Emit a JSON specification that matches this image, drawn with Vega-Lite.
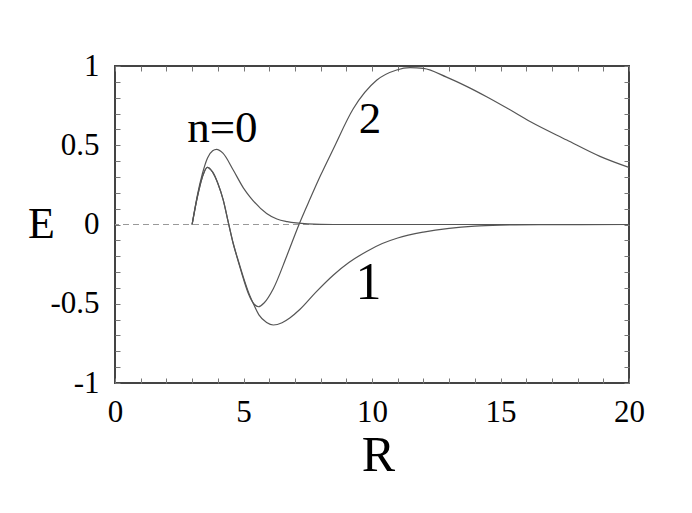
{
  "$schema": "https://vega.github.io/schema/vega-lite/v6.json",
  "width": 514,
  "height": 317,
  "autosize": {"type": "none"},
  "padding": {"left": 115, "top": 66, "right": 63, "bottom": 130},
  "background": "white",
  "config": {
    "view": {"stroke": "#444", "strokeWidth": 2},
    "axis": {"grid": false, "domain": false, "tickColor": "#777", "tickWidth": 1, "labelColor": "black", "titleColor": "black", "labelFont": "Liberation Serif", "titleFont": "Liberation Serif", "titleFontWeight": "normal"}
  },
  "datasets": {
    "curves": [
      {"n": "0", "R": 3.0, "E": 0.0},
      {"n": "0", "R": 3.2, "E": 0.18},
      {"n": "0", "R": 3.4, "E": 0.32},
      {"n": "0", "R": 3.6, "E": 0.42},
      {"n": "0", "R": 3.8, "E": 0.465},
      {"n": "0", "R": 3.95, "E": 0.474},
      {"n": "0", "R": 4.2, "E": 0.45},
      {"n": "0", "R": 4.6, "E": 0.344},
      {"n": "0", "R": 5.0, "E": 0.23},
      {"n": "0", "R": 5.25, "E": 0.175},
      {"n": "0", "R": 5.9, "E": 0.07},
      {"n": "0", "R": 6.3, "E": 0.035},
      {"n": "0", "R": 6.7, "E": 0.018},
      {"n": "0", "R": 7.5, "E": 0.004},
      {"n": "0", "R": 8.5, "E": 0.0},
      {"n": "0", "R": 20.0, "E": 0.0},
      {"n": "1", "R": 3.0, "E": 0.0},
      {"n": "1", "R": 3.2, "E": 0.17},
      {"n": "1", "R": 3.4, "E": 0.3},
      {"n": "1", "R": 3.59, "E": 0.361},
      {"n": "1", "R": 3.8, "E": 0.33},
      {"n": "1", "R": 4.0, "E": 0.26},
      {"n": "1", "R": 4.21, "E": 0.155},
      {"n": "1", "R": 4.4, "E": 0.02},
      {"n": "1", "R": 4.6, "E": -0.12},
      {"n": "1", "R": 4.8, "E": -0.23},
      {"n": "1", "R": 5.0, "E": -0.335},
      {"n": "1", "R": 5.2, "E": -0.43},
      {"n": "1", "R": 5.4, "E": -0.505},
      {"n": "1", "R": 5.6, "E": -0.57},
      {"n": "1", "R": 5.9, "E": -0.618},
      {"n": "1", "R": 6.16, "E": -0.634},
      {"n": "1", "R": 6.5, "E": -0.62},
      {"n": "1", "R": 6.8, "E": -0.59},
      {"n": "1", "R": 7.2, "E": -0.535},
      {"n": "1", "R": 7.8, "E": -0.43},
      {"n": "1", "R": 8.49, "E": -0.32},
      {"n": "1", "R": 9.1, "E": -0.24},
      {"n": "1", "R": 9.79, "E": -0.17},
      {"n": "1", "R": 10.4, "E": -0.12},
      {"n": "1", "R": 11.0, "E": -0.085},
      {"n": "1", "R": 12.0, "E": -0.048},
      {"n": "1", "R": 13.0, "E": -0.024},
      {"n": "1", "R": 14.0, "E": -0.01},
      {"n": "1", "R": 15.0, "E": -0.004},
      {"n": "1", "R": 16.5, "E": -0.001},
      {"n": "1", "R": 20.0, "E": 0.0},
      {"n": "2", "R": 3.0, "E": 0.0},
      {"n": "2", "R": 3.2, "E": 0.17},
      {"n": "2", "R": 3.4, "E": 0.3},
      {"n": "2", "R": 3.59, "E": 0.361},
      {"n": "2", "R": 3.8, "E": 0.33},
      {"n": "2", "R": 4.0, "E": 0.26},
      {"n": "2", "R": 4.21, "E": 0.155},
      {"n": "2", "R": 4.4, "E": 0.02},
      {"n": "2", "R": 4.6, "E": -0.12},
      {"n": "2", "R": 4.8, "E": -0.235},
      {"n": "2", "R": 5.0, "E": -0.345},
      {"n": "2", "R": 5.2, "E": -0.44},
      {"n": "2", "R": 5.4, "E": -0.5},
      {"n": "2", "R": 5.58, "E": -0.519},
      {"n": "2", "R": 5.8, "E": -0.495},
      {"n": "2", "R": 6.16, "E": -0.405},
      {"n": "2", "R": 6.68, "E": -0.2},
      {"n": "2", "R": 7.16, "E": 0.0},
      {"n": "2", "R": 7.6, "E": 0.165},
      {"n": "2", "R": 8.0, "E": 0.31},
      {"n": "2", "R": 8.49, "E": 0.475},
      {"n": "2", "R": 9.27, "E": 0.73},
      {"n": "2", "R": 10.18, "E": 0.91},
      {"n": "2", "R": 10.96, "E": 0.975},
      {"n": "2", "R": 11.48, "E": 0.99},
      {"n": "2", "R": 12.0, "E": 0.985},
      {"n": "2", "R": 12.9, "E": 0.93},
      {"n": "2", "R": 13.7, "E": 0.87},
      {"n": "2", "R": 14.46, "E": 0.806},
      {"n": "2", "R": 15.3, "E": 0.73},
      {"n": "2", "R": 16.15, "E": 0.65},
      {"n": "2", "R": 17.58, "E": 0.533},
      {"n": "2", "R": 18.87, "E": 0.43},
      {"n": "2", "R": 20.0, "E": 0.36}
    ],
    "labels": [
      {"label": "n=0", "R": 4.18, "E": 0.52},
      {"label": "1", "R": 9.86, "E": -0.472},
      {"label": "2", "R": 9.92, "E": 0.577}
    ],
    "zero": [{"E": 0}]
  },
  "resolve": {"axis": {"x": "independent", "y": "independent"}},
  "layer": [
    {
      "data": {"name": "zero"},
      "mark": {"type": "rule", "color": "#999", "strokeWidth": 1.2, "strokeDash": [6, 4]},
      "encoding": {
        "y": {"field": "E", "type": "quantitative", "scale": {"domain": [-1, 1], "nice": false}, "axis": null}
      }
    },
    {
      "data": {"name": "curves"},
      "mark": {"type": "line", "color": "#555", "strokeWidth": 1.2, "interpolate": "monotone", "clip": true},
      "encoding": {
        "x": {"field": "R", "type": "quantitative", "scale": {"domain": [0, 20], "nice": false},
          "axis": {"orient": "bottom", "values": [0,1,2,3,4,5,6,7,8,9,10,11,12,13,14,15,16,17,18,19,20],
            "labelExpr": "datum.value % 5 == 0 ? '' + datum.value : ''",
            "tickSize": -5, "labelPadding": 19, "labelFontSize": 31, "labelFlush": false,
            "title": "R", "titleFont": "Liberation Serif", "titleFontSize": 50, "titleX": 263, "titleY": 87, "titleBaseline": "alphabetic", "titleAnchor": null, "titleAlign": "center"}},
        "y": {"field": "E", "type": "quantitative", "scale": {"domain": [-1, 1], "nice": false},
          "axis": {"orient": "left", "values": [-1,-0.9,-0.8,-0.7,-0.6,-0.5,-0.4,-0.3,-0.2,-0.1,0,0.1,0.2,0.3,0.4,0.5,0.6,0.7,0.8,0.9,1],
            "labelExpr": "datum.value * 2 == round(datum.value * 2) ? '' + datum.value : ''",
            "tickSize": -5, "labelPadding": 21, "labelFontSize": 31, "labelFlush": false, "labelBaseline": "middle",
            "title": "E", "titleAngle": 0, "titleFont": "Liberation Serif", "titleFontSize": 44, "titleX": -74, "titleY": 158, "titleAlign": "center", "titleBaseline": "middle", "titleAnchor": null}},
        "detail": {"field": "n", "type": "nominal"}
      }
    },
    {
      "data": {"name": "labels"},
      "mark": {"type": "text", "font": "Liberation Serif", "color": "black", "align": "center", "baseline": "alphabetic"},
      "encoding": {
        "x": {"field": "R", "type": "quantitative", "scale": {"domain": [0, 20], "nice": false},
          "axis": {"orient": "top", "values": [0,1,2,3,4,5,6,7,8,9,10,11,12,13,14,15,16,17,18,19,20], "labels": false, "tickSize": -5, "title": null}},
        "y": {"field": "E", "type": "quantitative", "scale": {"domain": [-1, 1], "nice": false},
          "axis": {"orient": "right", "values": [-1,-0.9,-0.8,-0.7,-0.6,-0.5,-0.4,-0.3,-0.2,-0.1,0,0.1,0.2,0.3,0.4,0.5,0.6,0.7,0.8,0.9,1], "labels": false, "tickSize": -5, "title": null}},
        "text": {"field": "label"},
        "size": {"condition": {"test": "datum.label === '1'", "value": 52}, "value": 45}
      }
    }
  ]
}
